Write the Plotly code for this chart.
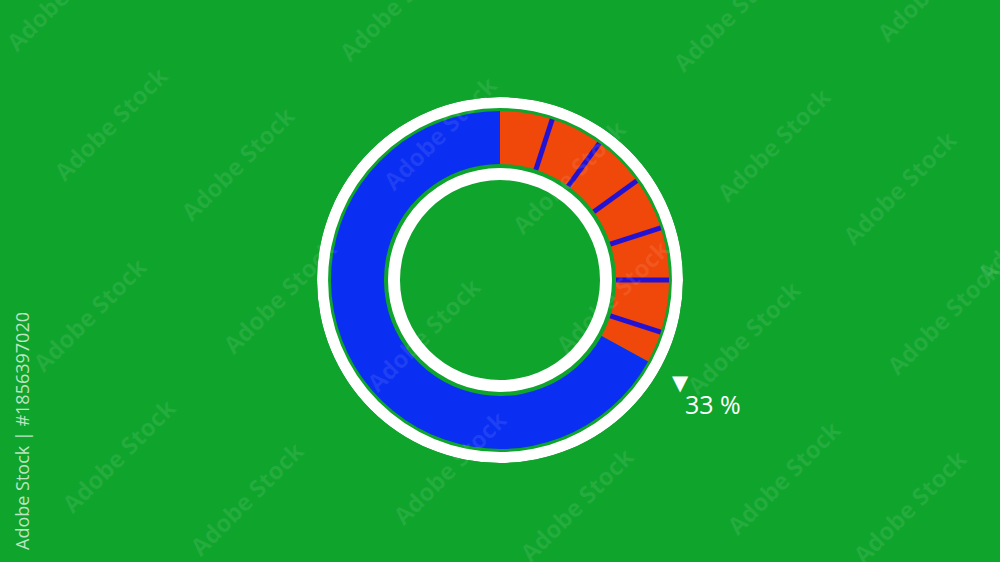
import plotly.graph_objects as go

# ---- data ----
categories = ["Completed", "Remaining"]
values = [33, 67]                      # percent
divider_pcts = [5, 10, 15, 20, 25, 30]  # tick marks inside the completed part
label_text = "33 %"

# ---- styles ----
BG = "#0fa42b"
BLUE = "#0a2ef2"
ORANGE = "#f0470a"
DIVIDER = "#2412d2"
WHITE = "#ffffff"

# ring radii (radial axis units)
R_MAX = 183
outer_ring = (172, 183)
donut = (116, 169)
inner_ring = (100, 112)

total = sum(values)
deg = [v / total * 360 for v in values]
starts = [sum(deg[:i]) for i in range(len(deg))]

fig = go.Figure()

# white rings (each as two half circles)
for lo, hi in (outer_ring, inner_ring):
    fig.add_trace(go.Barpolar(
        theta=[90, 270], width=[180, 180], base=[lo, lo], r=[hi - lo, hi - lo],
        marker=dict(color=WHITE, line=dict(width=0)), hoverinfo="skip", showlegend=False))

# donut segments
fig.add_trace(go.Barpolar(
    theta=[s + d / 2 for s, d in zip(starts, deg)],
    width=deg,
    base=[donut[0]] * len(values),
    r=[donut[1] - donut[0]] * len(values),
    marker=dict(color=[ORANGE, BLUE], line=dict(width=0)),
    text=categories, showlegend=False))

# dividers in the completed part
th, rr = [], []
for p in divider_pcts:
    t = p / total * 360
    th += [t, t, None]
    rr += [donut[0], donut[1], None]
fig.add_trace(go.Scatterpolar(theta=th, r=rr, mode="lines",
                              line=dict(color=DIVIDER, width=5), hoverinfo="skip",
                              showlegend=False))

W, H = 1000, 562
cx, cy = 500, 280
fig.update_layout(
    width=W, height=H,
    margin=dict(l=0, r=0, t=0, b=0),
    paper_bgcolor=BG, plot_bgcolor=BG,
    showlegend=False,
    polar=dict(
        domain=dict(x=[(cx - R_MAX) / W, (cx + R_MAX) / W],
                    y=[(H - cy - R_MAX) / H, (H - cy + R_MAX) / H]),
        bgcolor="rgba(0,0,0,0)",
        bargap=0,
        radialaxis=dict(range=[0, R_MAX], visible=False),
        angularaxis=dict(visible=False, rotation=90, direction="clockwise"),
    ),
)

annotations = []
# watermark
wm = [(63, -6), (110, 123), (237, 163), (396, 4), (440, 133), (89, 314), (118, 455),
      (246, 498), (279, 296), (423, 334), (449, 467), (576, 504), (783, 477), (909, 506),
      (743, 337), (943, 317), (612, 296), (729, 14), (773, 144), (899, 187), (569, 177),
      (933, -16), (1033, 224)]
for x, y in wm:
    annotations.append(dict(x=x / W, y=1 - y / H, xref="paper", yref="paper",
                            text="<b>Adobe Stock</b>", showarrow=False, textangle=-45,
                            font=dict(family="Open Sans", size=24,
                                      color="rgba(255,255,255,0.09)"),
                            xanchor="center", yanchor="middle"))
# value label
annotations.append(dict(x=680 / W, y=1 - 383 / H, xref="paper", yref="paper",
                        text="▼", showarrow=False,
                        font=dict(family="DejaVu Sans", size=21, color=WHITE),
                        xanchor="center", yanchor="middle"))
annotations.append(dict(x=713 / W, y=1 - 404 / H, xref="paper", yref="paper",
                        text=label_text, showarrow=False,
                        font=dict(family="Open Sans", size=25, color=WHITE),
                        xanchor="center", yanchor="middle"))
# vertical credit
annotations.append(dict(x=22 / W, y=1 - 431 / H, xref="paper", yref="paper",
                        text="Adobe Stock | #1856397020", showarrow=False, textangle=-90,
                        font=dict(family="Open Sans", size=18,
                                  color="rgba(255,255,255,0.72)"),
                        xanchor="center", yanchor="middle"))
fig.update_layout(annotations=annotations)

fig.write_html("out.html",
               config=dict(displayModeBar=False),
               post_script="document.body.style.margin='0';"
                           "document.body.style.background='%s';" % BG)
